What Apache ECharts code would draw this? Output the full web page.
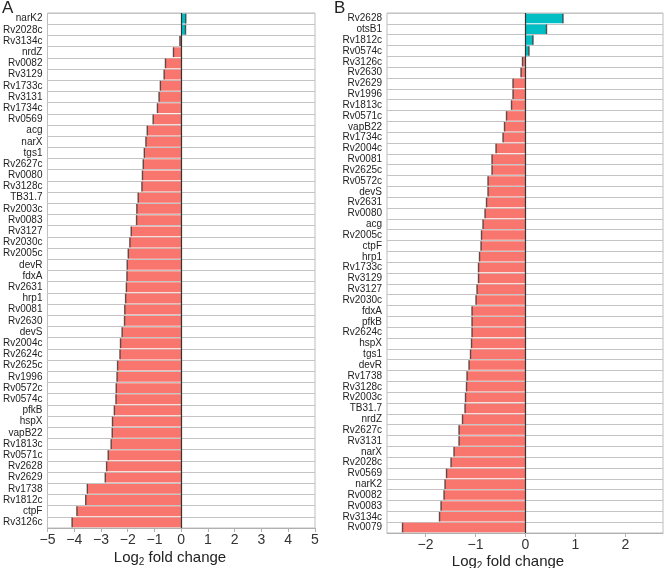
<!DOCTYPE html>
<html><head><meta charset="utf-8">
<script src="https://cdn.jsdelivr.net/npm/echarts@6/dist/echarts.min.js"></script>
<style>html,body{margin:0;padding:0;background:#fff}#c{width:664px;height:568px}</style>
</head><body><div id="c"></div>
<script>
const catsA = ['narK2','Rv2028c','Rv3134c','nrdZ','Rv0082','Rv3129','Rv1733c','Rv3131','Rv1734c','Rv0569','acg','narX','tgs1','Rv2627c','Rv0080','Rv3128c','TB31.7','Rv2003c','Rv0083','Rv3127','Rv2030c','Rv2005c','devR','fdxA','Rv2631','hrp1','Rv0081','Rv2630','devS','Rv2004c','Rv2624c','Rv2625c','Rv1996','Rv0572c','Rv0574c','pfkB','hspX','vapB22','Rv1813c','Rv0571c','Rv2628','Rv2629','Rv1738','Rv1812c','ctpF','Rv3126c'];
const valsA = [0.17,0.16,-0.05,-0.29,-0.59,-0.64,-0.78,-0.83,-0.89,-1.05,-1.27,-1.32,-1.38,-1.42,-1.45,-1.47,-1.61,-1.66,-1.67,-1.87,-1.92,-1.98,-2.02,-2.03,-2.05,-2.08,-2.11,-2.12,-2.21,-2.27,-2.29,-2.38,-2.40,-2.43,-2.44,-2.50,-2.57,-2.58,-2.62,-2.73,-2.79,-2.84,-3.51,-3.57,-3.90,-4.08];
const catsB = ['Rv2628','otsB1','Rv1812c','Rv0574c','Rv3126c','Rv2630','Rv2629','Rv1996','Rv1813c','Rv0571c','vapB22','Rv1734c','Rv2004c','Rv0081','Rv2625c','Rv0572c','devS','Rv2631','Rv0080','acg','Rv2005c','ctpF','hrp1','Rv1733c','Rv3129','Rv3127','Rv2030c','fdxA','pfkB','Rv2624c','hspX','tgs1','devR','Rv1738','Rv3128c','Rv2003c','TB31.7','nrdZ','Rv2627c','Rv3131','narX','Rv2028c','Rv0569','narK2','Rv0082','Rv0083','Rv3134c','Rv0079'];
const valsB = [0.75,0.42,0.15,0.07,-0.06,-0.09,-0.25,-0.25,-0.28,-0.38,-0.42,-0.45,-0.59,-0.67,-0.67,-0.75,-0.75,-0.78,-0.81,-0.85,-0.88,-0.89,-0.92,-0.94,-0.94,-0.97,-0.99,-1.07,-1.07,-1.07,-1.08,-1.10,-1.13,-1.17,-1.18,-1.20,-1.21,-1.26,-1.33,-1.33,-1.43,-1.49,-1.58,-1.61,-1.63,-1.69,-1.72,-2.46];
const ticksA = [-5,-4,-3,-2,-1,0,1,2,3,4,5];
const ticksB = [-2,-1,0,1,2];

const POS = '#00BFC4', NEG = '#F8766D', EDGE = '#3a3030';
const FONT = 'Liberation Sans, Arial, Helvetica, sans-serif';
const minus = v => v < 0 ? '\u2212' + Math.abs(v) : String(v);

function xAxis(gi, min, max, ticks) {
  return {
    type: 'value', gridIndex: gi, min: min, max: max,
    axisLine: {show: true, onZero: false, lineStyle: {color: '#b0b0b0', width: 1}},
    axisTick: {show: true, length: 4, lineStyle: {color: '#b0b0b0'}, customValues: ticks},
    axisLabel: {fontSize: 14, color: '#333', fontFamily: FONT, margin: 5, formatter: minus, customValues: ticks},
    splitLine: {show: false}
  };
}
function yAxis(gi, cats) {
  return {
    type: 'category', gridIndex: gi, data: cats, inverse: true,
    axisLine: {show: false}, axisTick: {show: false},
    axisLabel: {interval: 0, fontSize: 10, color: '#222', fontFamily: FONT, margin: 5},
    splitLine: {show: true, interval: 0, lineStyle: {color: '#c4c4c4', width: 1}}
  };
}
function series(idx, vals, h) {
  return [{
    type: 'bar', xAxisIndex: idx, yAxisIndex: idx, data: vals, barCategoryGap: '12%',
    itemStyle: {color: p => p.value >= 0 ? POS : NEG},
    markLine: {silent: true, symbol: 'none', label: {show: false},
      lineStyle: {color: '#333', width: 1.2, type: 'solid'}, data: [{xAxis: 0}]},
    z: 2
  }, {
    type: 'scatter', xAxisIndex: idx, yAxisIndex: idx,
    data: vals.map((v, i) => [v, i]), symbol: 'rect', symbolSize: [1.4, h],
    itemStyle: {color: EDGE}, silent: true, z: 3
  }];
}

const chart = echarts.init(document.getElementById('c'), null, {renderer: 'canvas'});
chart.setOption({
  animation: false,
  grid: [
    {left: 43, top: 13, width: 272, height: 515, show: true, borderColor: '#bdbdbd', borderWidth: 1},
    {left: 387, top: 13, width: 276, height: 520, show: true, borderColor: '#bdbdbd', borderWidth: 1}
  ],
  xAxis: [xAxis(0, -5, 5, ticksA), xAxis(1, -2.77, 2.75, ticksB)],
  yAxis: [yAxis(0, catsA), yAxis(1, catsB)],
  series: [...series(0, valsA, 9.8), ...series(1, valsB, 9.5)],
  graphic: [
    {type: 'text', left: 2, top: 0, style: {text: 'A', fontSize: 17, fontFamily: FONT, fill: '#222'}},
    {type: 'text', left: 334, top: 0, style: {text: 'B', fontSize: 17, fontFamily: FONT, fill: '#222'}},
    {type: 'text', x: 170, y: 558, style: {text: '{a|Log}{s|2}{a| fold change}', align: 'center', verticalAlign: 'middle', fill: '#222',
      rich: {a: {fontSize: 15, fontFamily: FONT, fill: '#222'}, s: {fontSize: 10, fontFamily: FONT, fill: '#222', padding: [9, 0, 0, 0]}}}},
    {type: 'text', x: 508, y: 562, style: {text: '{a|Log}{s|2}{a| fold change}', align: 'center', verticalAlign: 'middle', fill: '#222',
      rich: {a: {fontSize: 15, fontFamily: FONT, fill: '#222'}, s: {fontSize: 10, fontFamily: FONT, fill: '#222', padding: [9, 0, 0, 0]}}}}
  ]
});
</script></body></html>
